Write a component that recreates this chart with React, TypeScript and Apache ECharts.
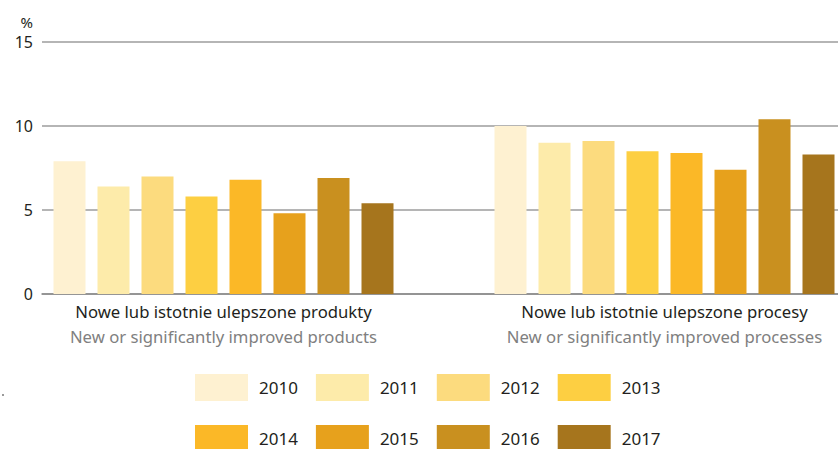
import React, { useEffect, useRef } from "react";
import * as echarts from "echarts";

// Categories (two lines: Polish / English)
const categoriesPl = ["Nowe lub istotnie ulepszone produkty", "Nowe lub istotnie ulepszone procesy"];
const categoriesEn = ["New or significantly improved products", "New or significantly improved processes"];

// Years and their shares (%) for products / processes
const years = ["2010", "2011", "2012", "2013", "2014", "2015", "2016", "2017"];
const products = [7.9, 6.4, 7.0, 5.8, 6.8, 4.8, 6.9, 5.4];
const processes = [10.0, 9.0, 9.1, 8.5, 8.4, 7.4, 10.4, 8.3];

const yTicks = [0, 5, 10, 15];

const colors = ["#fef1d1", "#fdebaa", "#fcdb7e", "#fdcf42", "#fbb827", "#e7a11c", "#c9901f", "#a6751d"];

const FONT = "Noto Sans";

export default function App() {
  const ref = useRef<HTMLDivElement>(null);

  useEffect(() => {
    if (!ref.current) return;
    const chart = echarts.init(ref.current, undefined, { renderer: "svg" });

    const series = years.map((y, i) => ({
      name: y,
      type: "bar",
      xAxisIndex: 1,
      yAxisIndex: 1,
      barWidth: 32,
      barGap: "37.5%",
      itemStyle: { color: colors[i] },
      data: [products[i], processes[i]],
    }));

    const legendCommon = {
      left: 195,
      orient: "horizontal",
      icon: "rect",
      padding: 0,
      itemWidth: 53,
      itemHeight: 27,
      itemGap: 18,
      selectedMode: false,
      textStyle: {
        fontFamily: FONT,
        fontSize: 17,
        color: "#231f20",
        width: 38,
        padding: [0, 0, 0, 6],
      },
    };

    chart.setOption({
      animation: false,
      backgroundColor: "#ffffff",
      textStyle: { fontFamily: FONT },
      grid: [
        { left: 42, right: 0, top: 42, height: 252, outerBoundsMode: "none" },
        { left: 3, width: 882, top: 42, height: 252, outerBoundsMode: "none" },
      ],
      xAxis: [
        {
          gridIndex: 0,
          type: "category",
          data: [""],
          axisLine: { show: true, lineStyle: { color: "#8a8a8a", width: 1.5 } },
          axisTick: { show: false },
          axisLabel: { show: false },
        },
        {
          gridIndex: 1,
          type: "category",
          data: categoriesPl,
          axisLine: { show: false },
          axisTick: { show: false },
          axisLabel: {
            margin: 5,
            formatter: (v: string, idx: number) => `{a|${v}}\n{b|${categoriesEn[idx]}}`,
            rich: {
              a: { fontFamily: FONT, fontSize: 16.7, color: "#231f20", lineHeight: 25 },
              b: { fontFamily: FONT, fontSize: 16.7, color: "#808080", lineHeight: 25 },
            },
          },
        },
      ],
      yAxis: [
        {
          gridIndex: 0,
          type: "value",
          min: yTicks[0],
          max: yTicks[yTicks.length - 1],
          interval: 5,
          name: "%",
          nameLocation: "end",
          nameGap: 13,
          nameTextStyle: { fontFamily: FONT, fontSize: 15, color: "#231f20", align: "right", padding: [0, 9, 0, 0] },
          axisLine: { show: false },
          axisTick: { show: false },
          axisLabel: { margin: 9, fontFamily: FONT, fontSize: 16, color: "#231f20" },
          splitLine: { show: true, lineStyle: { color: "#9c9c9c", width: 1.5 } },
        },
        {
          gridIndex: 1,
          type: "value",
          min: 0,
          max: 15,
          interval: 5,
          show: false,
          splitLine: { show: false },
        },
      ],
      legend: [
        { ...legendCommon, top: 374, data: years.slice(0, 4) },
        { ...legendCommon, top: 425, data: years.slice(4) },
      ],
      graphic: [
        { type: "rect", left: 2, top: 394, shape: { width: 2, height: 2 }, style: { fill: "#9a9a9a" } },
      ],
      series,
    });

    return () => chart.dispose();
  }, []);

  return (
    <div
      ref={ref}
      style={{ position: "fixed", left: 0, top: 0, width: 838, height: 449 }}
    />
  );
}
